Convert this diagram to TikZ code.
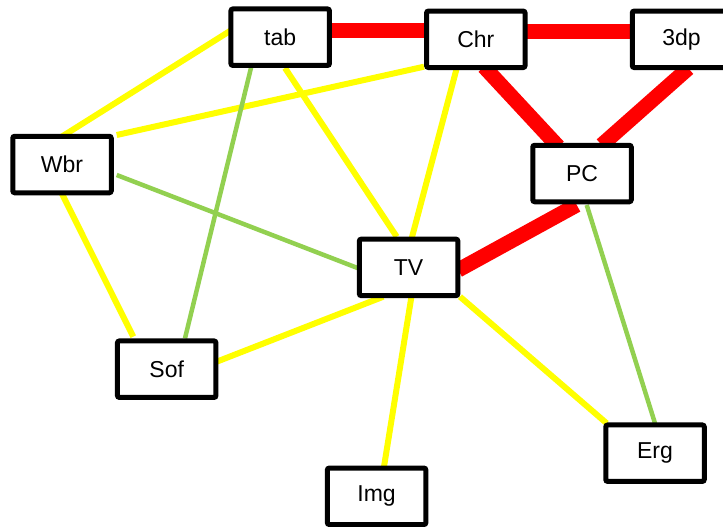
\documentclass[tikz,border=0pt]{standalone}
\usepackage{fontspec}
\setmainfont{Liberation Sans}
\usetikzlibrary{calc,backgrounds}
\definecolor{ylw}{HTML}{FFFF00}
\definecolor{grn}{HTML}{92D050}
\definecolor{rdc}{HTML}{FF0000}
\begin{document}
\begin{tikzpicture}[x=1pt,y=-1pt,
  box/.style={draw=black,line width=5pt,fill=white,rounded corners=2pt,minimum width=98.5pt,minimum height=56.5pt,inner sep=0pt,font=\fontsize{23}{27}\selectfont},
  yel/.style={draw=ylw,line width=6pt},
  gre/.style={draw=grn,line width=4.5pt},
  redline/.style={draw=rdc,line width=15pt}]
\useasboundingbox (0,0) rectangle (723,527);
\node[box] (tab) at (280.2,37.2) {tab};
\node[box] (Chr) at (475.8,39.3) {Chr};
\node[box] (n3dp) at (681.5,39.3) {3dp};
\node[box] (Wbr) at (62,164.5) {Wbr};
\node[box] (PC) at (582,173.5) {PC};
\node[box] (TV) at (408.6,267.4) {TV};
\node[box] (Sof) at (166.7,369.2) {Sof};
\node[box] (Erg) at (655,453.2) {Erg};
\node[box] (Img) at (376.6,496.3) {Img};
\begin{scope}[on background layer]
\draw[yel] ($(tab)+(-49,-7)$) -- ($(Wbr)+(0,-28)$);
\draw[yel] ($(Wbr)+(54.7,-29.5)$) -- ($(Chr)+(-51.8,27.4)$);
\draw[gre] ($(tab)+(-28.5,27.8)$) -- ($(Sof)+(18.3,-30.9)$);
\draw[yel] ($(tab)+(4.8,30.8)$) -- ($(TV)+(-11.9,-30.7)$);
\draw[gre] ($(Wbr)+(54.7,10.5)$) -- ($(TV)+(-50.3,0.9)$);
\draw[yel] ($(Wbr)+(-0.3,28.8)$) -- ($(Sof)+(-33.4,-32.5)$);
\draw[yel] ($(Sof)+(50,-7.5)$) -- ($(TV)+(-25.3,29.3)$);
\draw[yel] ($(Chr)+(-19.1,29)$) -- ($(TV)+(3.1,-29.1)$);
\draw[redline] ($(tab)+(49.8,-6.2)$) -- ($(Chr)+(-49.8,-8.3)$);
\draw[redline] ($(Chr)+(49.2,-7.8)$) -- ($(n3dp)+(-49.5,-7.8)$);
\draw[redline] ($(Chr)+(8.2,27.4)$) -- ($(PC)+(-23.7,-26.8)$);
\draw[redline] ($(n3dp)+(6.8,29)$) -- ($(PC)+(19.7,-28.5)$);
\draw[redline] ($(PC)+(-5.3,31.5)$) -- ($(TV)+(49.7,2.6)$);
\draw[gre] ($(PC)+(4.7,31.5)$) -- ($(Erg)+(0,-29.9)$);
\draw[yel] ($(TV)+(51.4,29.3)$) -- ($(Erg)+(-48.3,-29.9)$);
\draw[yel] ($(TV)+(3.1,27.6)$) -- ($(Img)+(7.4,-29.6)$);
\end{scope}
\end{tikzpicture}
\end{document}
